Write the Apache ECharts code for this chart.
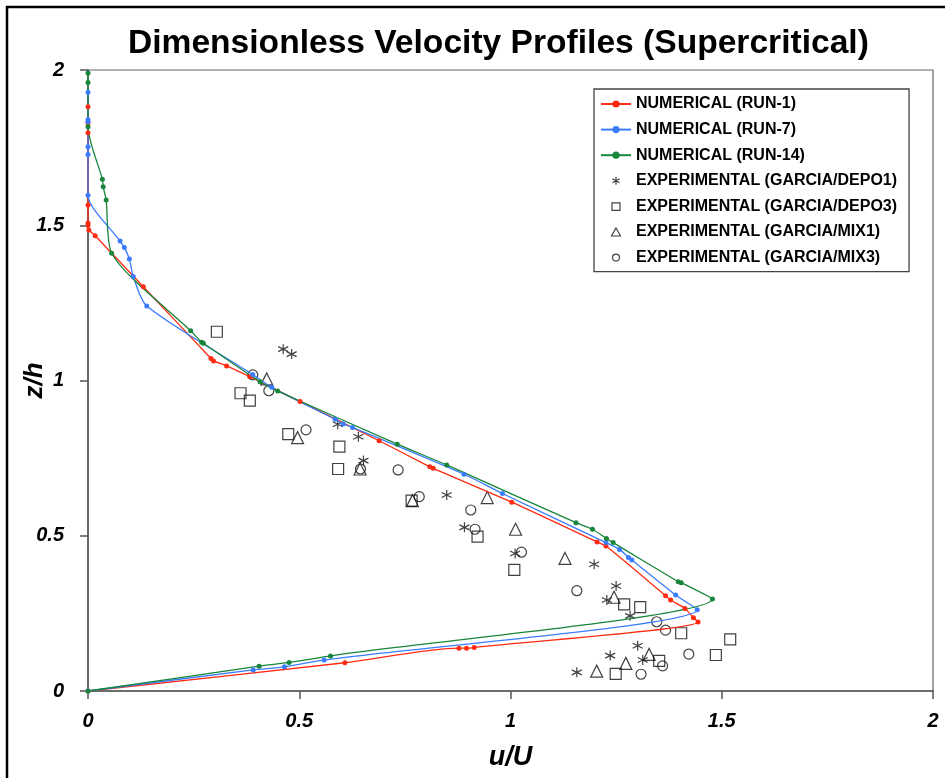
<!DOCTYPE html>
<html>
<head>
<meta charset="utf-8">
<script src="https://cdn.jsdelivr.net/npm/echarts@6/dist/echarts.min.js"></script>
<style>
  html, body { margin: 0; padding: 0; background: #fff; }
  #chart { width: 945px; height: 778px; }
</style>
</head>
<body>
<div id="chart"></div>
<script>
// ---- Data (u/U, z/h) ----
var run1U = [0, 0.608, 0.878, 0.896, 0.914, 1.444, 1.433, 1.413, 1.379, 1.367, 1.226, 1.205, 1.003, 0.817, 0.809, 0.689, 0.502, 0.383, 0.328, 0.297, 0.291, 0.131, 0.017, 0.002, 0, 0, 0, 0, 0, 0];
var run1Z = [0, 0.091, 0.138, 0.138, 0.140, 0.222, 0.236, 0.266, 0.293, 0.307, 0.467, 0.480, 0.608, 0.717, 0.722, 0.806, 0.932, 1.012, 1.047, 1.063, 1.071, 1.302, 1.466, 1.485, 1.500, 1.507, 1.565, 1.798, 1.830, 1.882];

var run7U = [0, 0.391, 0.465, 0.559, 1.442, 1.391, 1.287, 1.279, 1.258, 1.226, 0.981, 0.890, 0.626, 0.604, 0.585, 0.435, 0.390, 0.139, 0.107, 0.098, 0.086, 0.076, 0, 0, 0, 0, 0, 0];
var run7Z = [0, 0.068, 0.078, 0.100, 0.262, 0.309, 0.422, 0.430, 0.456, 0.478, 0.636, 0.698, 0.849, 0.860, 0.875, 0.978, 1.019, 1.240, 1.335, 1.391, 1.428, 1.449, 1.597, 1.728, 1.753, 1.833, 1.840, 1.928];

var run14U = [0, 0.405, 0.476, 0.574, 1.478, 1.404, 1.397, 1.243, 1.227, 1.194, 1.155, 0.849, 0.732, 0.449, 0.407, 0.273, 0.269, 0.243, 0.056, 0.043, 0.036, 0.034, 0, 0, 0];
var run14Z = [0, 0.080, 0.092, 0.113, 0.296, 0.349, 0.352, 0.478, 0.491, 0.521, 0.542, 0.728, 0.795, 0.966, 0.996, 1.120, 1.123, 1.160, 1.410, 1.581, 1.624, 1.648, 1.817, 1.960, 1.990];

var depo1U = [0.462, 0.482, 0.591, 0.640, 0.652, 0.849, 0.891, 1.011, 1.198, 1.250, 1.228, 1.283, 1.301, 1.236, 1.313, 1.157];
var depo1Z = [1.101, 1.085, 0.859, 0.819, 0.742, 0.631, 0.527, 0.443, 0.408, 0.338, 0.293, 0.242, 0.146, 0.114, 0.100, 0.060];

var depo3U = [0.305, 0.361, 0.383, 0.474, 0.595, 0.592, 0.766, 0.922, 1.009, 1.269, 1.307, 1.404, 1.520, 1.486, 1.352, 1.249];
var depo3Z = [1.157, 0.959, 0.935, 0.827, 0.787, 0.715, 0.613, 0.497, 0.390, 0.279, 0.270, 0.186, 0.166, 0.116, 0.097, 0.055];

var mix1U = [0.423, 0.496, 0.644, 0.768, 0.945, 1.012, 1.129, 1.245, 1.328, 1.273, 1.204];
var mix1Z = [1.005, 0.816, 0.715, 0.613, 0.623, 0.521, 0.427, 0.302, 0.118, 0.089, 0.064];

var mix3U = [0.390, 0.428, 0.516, 0.645, 0.734, 0.784, 0.906, 0.916, 1.026, 1.157, 1.346, 1.367, 1.422, 1.360, 1.309];
var mix3Z = [1.018, 0.967, 0.841, 0.715, 0.712, 0.626, 0.583, 0.521, 0.447, 0.323, 0.223, 0.196, 0.119, 0.081, 0.054];

var tickValues = [0, 0.5, 1, 1.5, 2];
var seriesNames = ['NUMERICAL (RUN-1)', 'NUMERICAL (RUN-7)', 'NUMERICAL (RUN-14)',
  'EXPERIMENTAL (GARCIA/DEPO1)', 'EXPERIMENTAL (GARCIA/DEPO3)', 'EXPERIMENTAL (GARCIA/MIX1)', 'EXPERIMENTAL (GARCIA/MIX3)'];

function zip(a, b) { return a.map(function (v, i) { return [v, b[i]]; }); }

var FONT = '"Liberation Sans", Arial, sans-serif';
var ASTERISK = 'path://M5,0 L5,10 M0.7,2.5 L9.3,7.5 M0.7,7.5 L9.3,2.5';
// legend icons: 30x9 box (invisible move-to corners) with the symbol centred
var LEG_AST = 'path://M0,0 M30,9 M15,0.5 L15,8.5 M11.5,2.5 L18.5,6.5 M11.5,6.5 L18.5,2.5';
var LEG_SQ = 'path://M0,0 M30,9 M11,1 L19,1 L19,8.5 L11,8.5 Z';
var LEG_TRI = 'path://M0,0 M30,9 M15,0.5 L19.5,8.5 L10.5,8.5 Z';
var LEG_CIR = 'path://M0,0 M30,9 M18.5,4.5 A3.5,3.5 0 1 1 11.5,4.5 A3.5,3.5 0 1 1 18.5,4.5 Z';

function lineSeries(name, u, z, color) {
  return {
    name: name, type: 'line', data: zip(u, z), smooth: 0.25,
    symbol: 'circle', symbolSize: 5, showSymbol: true,
    lineStyle: { color: color, width: 1.3 },
    itemStyle: { color: color },
    emphasis: { disabled: true }, animation: false
  };
}
function scatterSeries(name, u, z, symbol, size) {
  return {
    name: name, type: 'scatter', data: zip(u, z),
    symbol: symbol, symbolSize: size,
    itemStyle: { color: 'transparent', borderColor: '#111', borderWidth: 1.2 },
    emphasis: { disabled: true }, animation: false
  };
}
var legItemStyle = { color: 'transparent', borderColor: '#111', borderWidth: 1.2 };

var chart = echarts.init(document.getElementById('chart'), null, { renderer: 'canvas' });
chart.setOption({
  backgroundColor: '#fff',
  animation: false,
  title: {
    text: 'Dimensionless Velocity Profiles (Supercritical)',
    left: 123, top: 22,
    textStyle: { fontFamily: FONT, fontWeight: 'bold', fontSize: 33.6, color: '#000' }
  },
  graphic: [{
    type: 'rect', shape: { x: 7, y: 7, width: 2000, height: 2000 },
    style: { fill: 'none', stroke: '#000', lineWidth: 2.5 }, silent: true, z: 100
  }],
  grid: { left: 88, top: 70, right: 12, bottom: 87, show: true, borderColor: '#666', borderWidth: 1.2,
    outerBoundsMode: 'none', containLabel: false },
  legend: {
    orient: 'vertical', left: 594, top: 89,
    padding: [7, 12, 6, 6], itemGap: 9.6, itemWidth: 30, itemHeight: 9,
    borderColor: '#444', borderWidth: 1.3, backgroundColor: '#fff',
    textStyle: { fontFamily: FONT, fontWeight: 'bold', fontSize: 16, color: '#000', lineHeight: 16 },
    data: [
      { name: seriesNames[0] },
      { name: seriesNames[1] },
      { name: seriesNames[2] },
      { name: seriesNames[3], icon: LEG_AST, itemStyle: legItemStyle },
      { name: seriesNames[4], icon: LEG_SQ, itemStyle: legItemStyle },
      { name: seriesNames[5], icon: LEG_TRI, itemStyle: legItemStyle },
      { name: seriesNames[6], icon: LEG_CIR, itemStyle: legItemStyle }
    ]
  },
  xAxis: {
    type: 'value', min: 0, max: 2, interval: 0.5,
    name: 'u/U', nameLocation: 'middle', nameGap: 53, nameMoveOverlap: false,
    nameTextStyle: { fontFamily: FONT, fontWeight: 'bold', fontStyle: 'italic', fontSize: 27, color: '#000' },
    axisLine: { show: true, onZero: false, lineStyle: { color: '#555', width: 1.5 } },
    axisTick: { show: true, length: 8, lineStyle: { color: '#555', width: 1.5 } },
    axisLabel: { margin: 20, fontFamily: FONT, fontWeight: 'bold', fontStyle: 'italic', fontSize: 20, color: '#000',
      formatter: function (v) { return tickValues.indexOf(v) >= 0 ? String(v) : ''; } },
    splitLine: { show: false }
  },
  yAxis: {
    type: 'value', min: 0, max: 2, interval: 0.5,
    name: 'z/h', nameLocation: 'middle', nameGap: 40, nameRotate: 90, nameMoveOverlap: false,
    nameTextStyle: { fontFamily: FONT, fontWeight: 'bold', fontStyle: 'italic', fontSize: 26, color: '#000' },
    axisLine: { show: true, onZero: false, lineStyle: { color: '#555', width: 1.5 } },
    axisTick: { show: true, length: 8, lineStyle: { color: '#555', width: 1.5 } },
    axisLabel: { margin: 24, fontFamily: FONT, fontWeight: 'bold', fontStyle: 'italic', fontSize: 20, color: '#000' },
    splitLine: { show: false }
  },
  series: [
    lineSeries(seriesNames[0], run1U, run1Z, '#ff2a12'),
    lineSeries(seriesNames[1], run7U, run7Z, '#3b7cff'),
    lineSeries(seriesNames[2], run14U, run14Z, '#17853a'),
    scatterSeries(seriesNames[3], depo1U, depo1Z, ASTERISK, 10),
    scatterSeries(seriesNames[4], depo3U, depo3Z, 'rect', 11),
    scatterSeries(seriesNames[5], mix1U, mix1Z, 'triangle', 12),
    scatterSeries(seriesNames[6], mix3U, mix3Z, 'circle', 10)
  ]
});
</script>
</body>
</html>
